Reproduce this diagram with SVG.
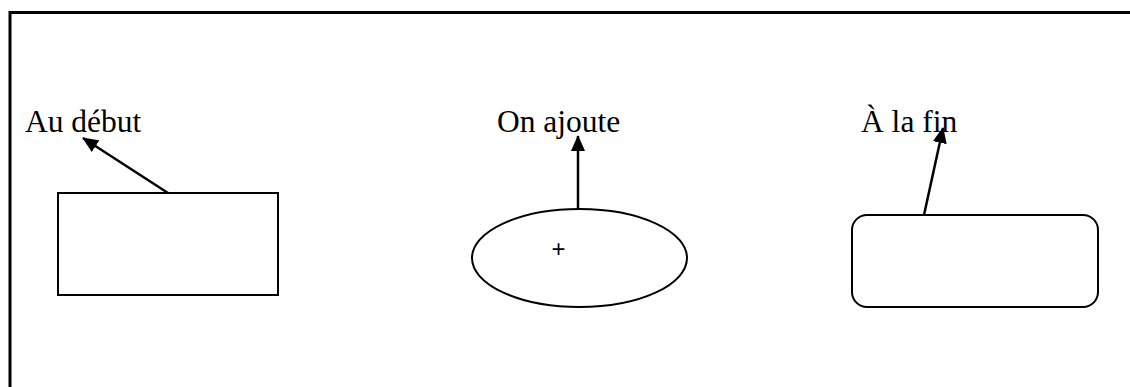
<svg xmlns="http://www.w3.org/2000/svg" width="1130" height="387" viewBox="0 0 1130 387">
<style>
.shape{fill:#fff;stroke:#000;stroke-width:2}
.lbl{font-family:"Liberation Serif","Times New Roman",serif;font-size:31.5px;fill:#000}
.conn{stroke:#000;stroke-width:2.5;fill:none}
.frame{stroke:#000;stroke-width:3;fill:none}
</style>
<defs>
<marker id="ah" viewBox="0 0 16 14" refX="15" refY="7" markerWidth="16" markerHeight="14" markerUnits="userSpaceOnUse" orient="auto">
<path d="M0,0 L16,7 L0,14 z" fill="#000"/>
</marker>
</defs>
<rect width="1130" height="387" fill="#fff"/>
<g id="frame">
<path class="frame" d="M10,387 L10,12.5 L1130,12.5"/>
</g>
<g id="label-debut"><text class="lbl" x="25" y="132">Au début</text></g>
<g id="label-ajoute"><text class="lbl" x="497" y="132">On ajoute</text></g>
<g id="label-fin"><text class="lbl" x="861" y="132">À la fin</text></g>
<g id="node-rect"><rect class="shape" x="58" y="193" width="220" height="102"/></g>
<g id="node-ellipse">
<ellipse class="shape" cx="579.5" cy="258" rx="107.5" ry="49"/>
<text x="558.5" y="257" text-anchor="middle" style="font-family:'Liberation Sans',Arial,sans-serif;font-size:24px">+</text>
</g>
<g id="node-rounded"><rect class="shape" x="852" y="215" width="246" height="92" rx="15" ry="15"/></g>
<g id="connectors">
<line class="conn" x1="168" y1="193" x2="83" y2="138" marker-end="url(#ah)"/>
<line class="conn" x1="578" y1="209" x2="578" y2="136" marker-end="url(#ah)"/>
<line class="conn" x1="924" y1="215" x2="943" y2="128" marker-end="url(#ah)"/>
</g>
</svg>
